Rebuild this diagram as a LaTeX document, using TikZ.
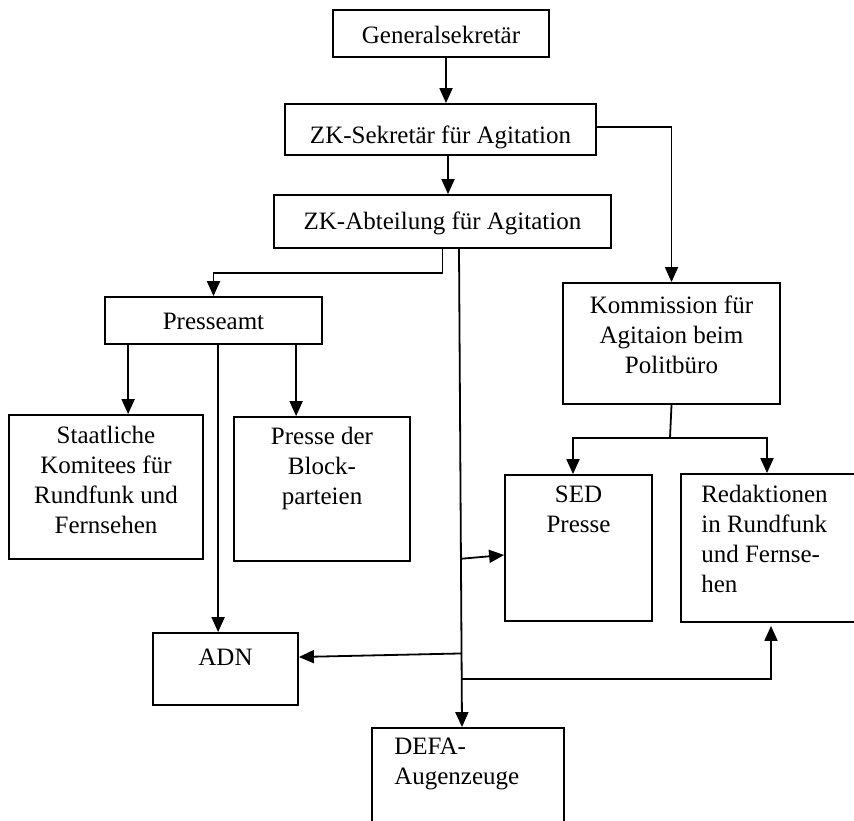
\documentclass[tikz,border=0pt]{standalone}
\usepackage{fontspec}
\setmainfont{Liberation Serif}
\usetikzlibrary{arrows.meta,calc}
\begin{document}
\begin{tikzpicture}[x=1pt,y=-1pt,
  box/.style={draw, line width=1.8pt, inner sep=0pt, rectangle},
  lbl/.style={inner sep=0pt, anchor=north, align=center, font=\fontsize{25}{30}\selectfont, execute at begin node=\strut},
  lbll/.style={lbl, anchor=north west, align=left},
  con/.style={line width=1.8pt},
  arr/.style={con, -{Triangle[width=13pt,length=15pt]}}]
\useasboundingbox (0,0) rectangle (854,821);
\clip (0,0) rectangle (854,821);

% boxes
\node[box, minimum width=216pt, minimum height=47pt] (gen) at (441,33.5) {};
\node[box, minimum width=311pt, minimum height=51pt] (zks) at (440.5,129.5) {};
\node[box, minimum width=337pt, minimum height=53pt] (zka) at (442.5,221.5) {};
\node[box, minimum width=217pt, minimum height=47pt] (pa) at (213.5,320.5) {};
\node[box, minimum width=194pt, minimum height=144pt] (st) at (106,487) {};
\node[box, minimum width=176pt, minimum height=144pt] (bl) at (322,489) {};
\node[box, minimum width=145pt, minimum height=72pt] (adn) at (225.5,669) {};
\node[box, minimum width=217pt, minimum height=121pt] (komm) at (671.5,343.5) {};
\node[box, minimum width=147pt, minimum height=146pt] (sed) at (578.5,548) {};
\node[box, minimum width=190pt, minimum height=148pt] (red) at (776,548) {};
\node[box, minimum width=192pt, minimum height=112pt] (defa) at (468,784) {};

% labels
\node[lbl] (gent) at ([yshift=-13pt]gen.north) {Generalsekretär};
\node[lbl] (zkst) at ([yshift=-19pt]zks.north) {ZK-Sekretär für Agitation};
\node[lbl] (zkat) at ([yshift=-14pt]zka.north) {ZK-Abteilung für Agitation};
\node[lbl] (pat) at ([yshift=-12pt]pa.north) {Presseamt};
\node[lbl] (stt) at ([yshift=-12pt]st.north) {Staatliche\\Komitees für\\Rundfunk und\\Fernsehen};
\node[lbl] (blt) at ([yshift=-11pt]bl.north) {Presse der\\Block-\\parteien};
\node[lbl] (adnt) at ([yshift=-12pt]adn.north) {ADN};
\node[lbl] (kommt) at ([yshift=-14pt]komm.north) {Kommission für\\Agitaion beim\\Politbüro};
\node[lbl] (sedt) at ([yshift=-12pt]sed.north) {SED\\Presse};
\node[lbll] (redt) at ([xshift=21pt,yshift=-12pt]red.north west) {Redaktionen\\in Rundfunk\\und Fernse-\\hen};
\node[lbll] (defat) at ([xshift=23pt,yshift=-11pt]defa.north west) {DEFA-\\Augenzeuge};

% helper coordinates
\coordinate (g1) at ([xshift=5pt]gen.south);
\coordinate (z1) at ([xshift=7.5pt]zks.south);
\coordinate (ze) at ([yshift=2.5pt]zks.east);
\coordinate (vt) at ([xshift=16.5pt]zka.south);
\coordinate (vb) at ([xshift=-6pt]defa.north);
\coordinate (vs) at ($(vt)!0.648!(vb)$);
\coordinate (va) at ($(vt)!0.846!(vb)$);
\coordinate (vr) at ($(vt)!0.9!(vb)$);
\coordinate (kj) at ([xshift=-1.5pt,yshift=-33pt]komm.south);
\coordinate (sedn) at ([xshift=-5.5pt]sed.north);
\coordinate (redn) at ([xshift=-9pt]red.north);
\coordinate (reds) at ([xshift=-5pt]red.south);
\coordinate (p1) at ([xshift=24pt]pa.south west);
\coordinate (p2) at ([xshift=192pt]pa.south west);
\coordinate (p3) at ([xshift=114pt]pa.south west);

% connectors
\draw[arr] (g1) -- (g1 |- zks.north);
\draw[arr] (z1) -- (z1 |- zka.north);
\draw[arr] (ze) -| (komm.north);
\draw[arr] (zka.south) -- ++(0,24) -| (pa.north);
\draw[arr] (vt) -- (vb);
\draw[arr] (vs) -- ([yshift=-7pt]sed.west);
\draw[arr] (va) -- ([yshift=12pt]adn.east);
\draw[arr] (vr) -| ([yshift=-3pt]reds);
\draw[con] (komm.south) -- (kj);
\draw[arr] (kj) -| (sedn);
\draw[arr] (kj) -| (redn);
\draw[arr] (p1) -- (p1 |- st.north);
\draw[arr] (p2) -- (p2 |- bl.north);
\draw[arr] (p3) -- (p3 |- adn.north);
\end{tikzpicture}
\end{document}
